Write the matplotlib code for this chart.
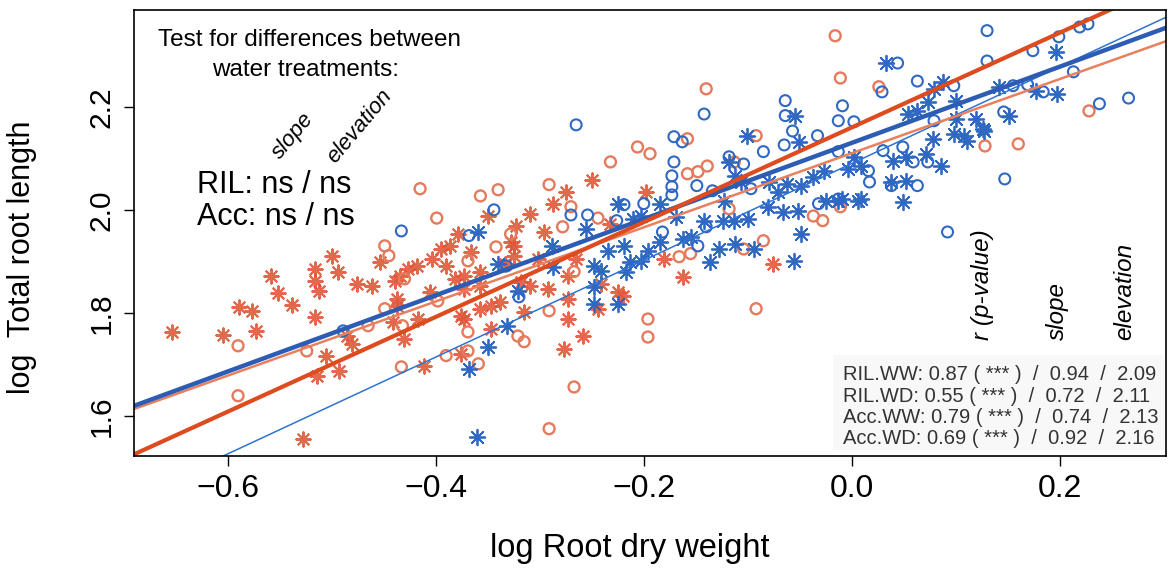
import matplotlib
matplotlib.use("Agg")
import matplotlib.pyplot as plt
import numpy as np

plt.rcParams['font.family'] = ['Liberation Sans', 'DejaVu Sans']

# orange (water deficit) asterisks
wd_star_x = [-0.653, -0.604, -0.589, -0.577, -0.573, -0.558, -0.552, -0.538, -0.516, -0.516,
             -0.512, -0.516, -0.500, -0.494, -0.476, -0.461, -0.485, -0.480, -0.505, -0.514,
             -0.493, -0.528, -0.454, -0.439, -0.437, -0.441, -0.430, -0.418, -0.411, -0.404,
             -0.417, -0.427, -0.386, -0.373, -0.357, -0.373, -0.376, -0.357, -0.328, -0.325,
             -0.338, -0.347, -0.315, -0.309, -0.292, -0.273, -0.273, -0.258, -0.277, -0.225,
             -0.244, -0.250, -0.275, -0.287, -0.350, -0.323, -0.379, -0.390, -0.325, -0.296,
             -0.366, -0.357, -0.434, -0.302, -0.273, -0.318, -0.373, -0.405, -0.347, -0.437,
             -0.376, -0.198, -0.162, -0.076, -0.181, -0.220, -0.395, -0.381, -0.333, -0.265,
             -0.241, -0.309, -0.232]
wd_star_y = [1.763, 1.757, 1.812, 1.804, 1.765, 1.872, 1.839, 1.816, 1.885, 1.862,
             1.843, 1.792, 1.911, 1.880, 1.856, 1.852, 1.755, 1.740, 1.717, 1.678,
             1.687, 1.555, 1.899, 1.862, 1.827, 1.783, 1.750, 1.891, 1.697, 1.905,
             1.788, 1.885, 1.930, 1.872, 1.852, 1.788, 1.720, 1.808, 1.938, 1.911,
             1.821, 1.769, 1.802, 1.852, 1.847, 1.827, 1.788, 1.755, 1.730, 1.841,
             1.808, 2.058, 2.035, 2.012, 1.988, 1.969, 1.953, 1.891, 1.930, 1.957,
             1.918, 1.880, 1.872, 1.905, 1.872, 1.860, 1.847, 1.841, 1.814, 1.814,
             1.794, 2.035, 1.870, 1.895, 1.905, 1.833, 1.924, 1.866, 1.895, 1.905,
             1.856, 1.992, 1.973]

# orange circles
wd_circ_x = [-0.590, -0.590, -0.524, -0.449, -0.445, -0.449, -0.465, -0.432, -0.433, -0.430,
             -0.398, -0.390, -0.369, -0.369, -0.359, -0.321, -0.315, -0.291, -0.267, -0.291,
             -0.267, -0.196, -0.196, -0.415, -0.399, -0.357, -0.340, -0.291, -0.232, -0.206,
             -0.270, -0.244, -0.342, -0.369, -0.278, -0.328, -0.016, -0.011, -0.140, -0.194,
             -0.158, -0.139, -0.158, -0.148, -0.092, -0.113, -0.118, -0.085, -0.104, -0.166,
             -0.155, -0.092, -0.037, -0.028, -0.011, 0.128, 0.026, 0.160, 0.228]
wd_circ_y = [1.736, 1.639, 1.726, 1.930, 1.911, 1.808, 1.775, 1.775, 1.695, 1.866,
             1.823, 1.717, 1.763, 1.726, 1.701, 1.755, 1.744, 1.804, 1.656, 1.575,
             1.880, 1.788, 1.753, 2.041, 1.984, 2.027, 2.039, 2.049, 2.093, 2.122,
             2.006, 1.984, 1.928, 1.901, 1.967, 1.953, 2.338, 2.256, 2.235, 2.109,
             2.138, 2.085, 2.070, 2.074, 2.144, 2.093, 2.002, 1.940, 1.924, 1.909,
             1.915, 1.808, 1.988, 1.979, 2.006, 2.124, 2.239, 2.128, 2.192]

# blue (well watered) circles
ww_circ_x = [-0.433, -0.489, -0.265, -0.344, -0.368, -0.270, -0.254, -0.219, -0.226, -0.332,
             -0.320, -0.200, -0.142, -0.064, -0.064, -0.057, -0.009, -0.013, 0.002, -0.171,
             -0.163, -0.171, -0.173, -0.173, -0.173, -0.149, -0.118, -0.104, -0.085, -0.065,
             -0.033, -0.013, -0.182, -0.148, -0.140, -0.032, -0.013, -0.134, -0.097, 0.044,
             0.063, 0.029, 0.130, 0.049, 0.030, 0.016, 0.017, 0.079, 0.059, 0.073,
             0.063, 0.038, 0.092, 0.098, 0.130, 0.174, 0.199, 0.219, 0.227, 0.213,
             0.155, 0.169, 0.184, 0.238, 0.266, 0.146, 0.147]
ww_circ_y = [1.959, 1.765, 2.165, 2.000, 1.950, 1.990, 1.990, 2.010, 1.979, 1.891,
             1.831, 2.012, 2.186, 2.212, 2.183, 2.153, 2.202, 2.173, 2.171, 2.142,
             2.132, 2.093, 2.066, 2.045, 2.029, 2.047, 2.103, 2.089, 2.113, 2.126,
             2.144, 2.113, 1.957, 1.930, 1.967, 2.012, 2.021, 2.037, 2.041, 2.285,
             2.250, 2.229, 2.289, 2.122, 2.115, 2.076, 2.054, 2.173, 2.093, 2.093,
             2.047, 2.047, 1.957, 2.241, 2.348, 2.309, 2.336, 2.355, 2.361, 2.268,
             2.241, 2.243, 2.229, 2.206, 2.217, 2.190, 2.060]

# blue asterisks
ww_star_x = [-0.368, -0.350, -0.331, -0.321, -0.340, -0.360, -0.288, -0.287, -0.248, -0.248,
             -0.248, -0.225, -0.241, -0.234, -0.219, -0.217, -0.213, -0.203, -0.196, -0.359,
             -0.256, -0.225, -0.210, -0.055, -0.101, -0.118, -0.112, -0.051, -0.123, -0.081,
             -0.071, -0.062, -0.049, -0.037, -0.027, -0.052, -0.066, -0.100, -0.113, -0.124,
             -0.142, -0.155, -0.162, -0.184, -0.128, -0.112, -0.094, -0.049, -0.136, -0.056,
             -0.025, -0.013, 0.006, 0.002, -0.004, -0.169, -0.184, -0.203, -0.107, -0.080,
             0.033, 0.079, 0.088, 0.100, 0.073, 0.054, 0.063, 0.100, 0.119, 0.126,
             0.098, 0.108, 0.111, 0.078, 0.071, 0.052, 0.040, 0.086, 0.009, 0.038,
             0.052, 0.009, 0.049, -0.009, 0.196, 0.141, 0.177, 0.197, 0.151, 0.127]
ww_star_y = [1.691, 1.734, 1.775, 1.843, 1.895, 1.559, 1.930, 1.889, 1.891, 1.850,
             1.817, 1.817, 1.882, 1.920, 1.930, 1.880, 1.899, 1.901, 1.920, 1.957,
             1.963, 2.012, 1.983, 2.183, 2.144, 2.093, 2.066, 2.132, 2.017, 2.006,
             2.035, 2.050, 2.047, 2.064, 2.076, 1.998, 1.996, 1.983, 1.979, 1.979,
             1.979, 1.948, 1.944, 1.938, 1.924, 1.934, 1.924, 1.953, 1.899, 1.901,
             2.017, 2.017, 2.017, 2.103, 2.080, 1.986, 2.012, 1.988, 2.054, 2.054,
             2.285, 2.235, 2.249, 2.212, 2.210, 2.186, 2.192, 2.177, 2.177, 2.157,
             2.148, 2.144, 2.134, 2.138, 2.109, 2.103, 2.095, 2.085, 2.085, 2.054,
             2.056, 2.021, 2.016, 2.021, 2.307, 2.239, 2.231, 2.225, 2.183, 2.153]

# fitted lines (slope, elevation)
fit_names = ['RIL.WW', 'RIL.WD', 'Acc.WW', 'Acc.WD']
fit_r = [0.87, 0.55, 0.79, 0.69]
fit_slope = [0.94, 0.72, 0.74, 0.92]
fit_elev = [2.09, 2.11, 2.13, 2.16]

blue = '#2f68c2'
orange = '#e0573a'

fig = plt.figure(figsize=(11.69, 5.71), dpi=100)
ax = fig.add_axes([134/1169, 1-456/571, 1032/1169, 446/571])

xlim = (-0.69, 0.302)
ylim = (1.522, 2.388)

star = (8, 2, 0)
ax.scatter(wd_star_x, wd_star_y, marker=star, s=105, c=orange, linewidths=1.5, alpha=0.9)
ax.scatter(wd_circ_x, wd_circ_y, marker='o', s=62, facecolors='none', edgecolors='#e57a5c', linewidths=1.7)
ax.scatter(ww_circ_x, ww_circ_y, marker='o', s=62, facecolors='none', edgecolors=blue, linewidths=1.5)
ax.scatter(ww_star_x, ww_star_y, marker=star, s=125, c=blue, linewidths=1.3)

xx = np.array(xlim)
line_styles = {
    'RIL.WW': dict(color='#2f73d0', lw=1.1),
    'RIL.WD': dict(color='#e8805e', lw=1.8),
    'Acc.WW': dict(color='#2d5cb5', lw=3.2),
    'Acc.WD': dict(color='#dd4b1f', lw=3.0),
}
for name, b, a in zip(fit_names, fit_slope, fit_elev):
    ax.plot(xx, a + b * xx, **line_styles[name])

ax.set_xlim(xlim)
ax.set_ylim(ylim)
ax.set_xticks([-0.6, -0.4, -0.2, 0.0, 0.2])
ax.set_xticklabels(['\u22120.6', '\u22120.4', '\u22120.2', '0.0', '0.2'])
ax.set_yticks([1.6, 1.8, 2.0, 2.2])
ax.set_yticklabels(['1.6', '1.8', '2.0', '2.2'])
ax.tick_params(axis='both', length=7, width=1, pad=6)
ax.tick_params(axis='x', labelsize=23)
ax.tick_params(axis='y', labelsize=21.5)
plt.setp(ax.get_yticklabels(), rotation=90, va='center')
for sp in ax.spines.values():
    sp.set_linewidth(1.2)

fig.text(630/1169, 1-548/571, 'log Root dry weight', ha='center', va='center', fontsize=23.5)
fig.text(22/1169, 1-257/571, 'log  Total root length', ha='center', va='center',
         rotation=90, fontsize=22)

# test annotation, upper left
fig.text(309/1169, 1-40/571, 'Test for differences between', ha='center', va='center', fontsize=17.5)
fig.text(306/1169, 1-70/571, 'water treatments:', ha='center', va='center', fontsize=17.5)
fig.text(280/1169, 1-160/571, 'slope', rotation=50, rotation_mode='anchor',
         ha='left', va='baseline', fontsize=16, style='italic')
fig.text(335/1169, 1-164/571, 'elevation', rotation=50, rotation_mode='anchor',
         ha='left', va='baseline', fontsize=16, style='italic')
fig.text(197/1169, 1-185/571, 'RIL: ns / ns', ha='left', va='center', fontsize=22)
fig.text(197/1169, 1-217/571, 'Acc: ns / ns', ha='left', va='center', fontsize=22)

# column headers, lower right
for xc, lab in [(983, 'r (p-value)'), (1057, 'slope'), (1125, 'elevation')]:
    fig.text(xc/1169, 1-340/571, lab, rotation=90, ha='center', va='bottom',
             fontsize=17.5, style='italic')

fig.patches.append(plt.Rectangle((833/1169, 1-450/571), 331/1169, 95/571,
                                 transform=fig.transFigure, facecolor='#f8f8f8',
                                 edgecolor='none', zorder=0.5))
for i, (name, r, b, a) in enumerate(zip(fit_names, fit_r, fit_slope, fit_elev)):
    fig.text(843/1169, 1-(375 + 21.3*i)/571,
             f'{name}: {r:.2f} ( *** )  /  {b:.2f}  /  {a:.2f}',
             ha='left', va='center', fontsize=14.5, color='#333333')

fig.savefig('out.png', dpi=100)
